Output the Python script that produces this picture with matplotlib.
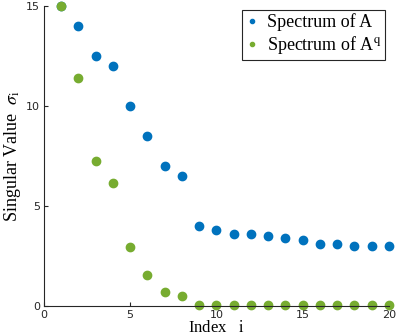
import matplotlib
matplotlib.use('Agg')
import matplotlib.pyplot as plt

plt.rcParams['mathtext.fontset'] = 'stix'

# singular value index
index = list(range(1, 21))
# spectrum of A
spec_a = [15.0, 14.0, 12.5, 12.0, 10.0, 8.5, 7.0, 6.5, 4.0, 3.8,
          3.6, 3.6, 3.5, 3.4, 3.3, 3.1, 3.1, 3.0, 3.0, 3.0]
# spectrum of A^q
spec_aq = [15.0, 11.4, 7.25, 6.15, 2.97, 1.55, 0.7, 0.52, 0.06, 0.05,
           0.05, 0.05, 0.05, 0.05, 0.05, 0.05, 0.05, 0.05, 0.05, 0.05]

x_ticks = [0, 5, 10, 15, 20]
y_ticks = [0, 5, 10, 15]

fig = plt.figure(figsize=(3.96, 3.36), dpi=100)
ax = fig.add_axes([0.111, 0.089, 0.871, 0.893])

ax.plot(index, spec_a, 'o', color='#0072BD', markersize=6, label='Spectrum of A', clip_on=False)
ax.plot(index, spec_aq, 'o', color='#77AC30', markersize=6, label='Spectrum of A$^{\\mathrm{q}}$', clip_on=False)

ax.set_xlim(0, 20)
ax.set_ylim(0, 15)
ax.set_xticks(x_ticks)
ax.set_yticks(y_ticks)
ax.tick_params(direction='in', length=3, labelsize=8, colors='#262626', pad=3)
for s in ['top', 'right']:
    ax.spines[s].set_visible(False)
for s in ['left', 'bottom']:
    ax.spines[s].set_color('#262626')
    ax.spines[s].set_linewidth(0.8)

serif = 'Liberation Serif'
ax.set_xlabel('Index   $\\mathrm{i}$', family=serif, fontsize=12, labelpad=0)
ax.set_ylabel('Singular Value  $\\sigma_{\\mathrm{i}}$', family=serif, fontsize=13, labelpad=2)

leg = ax.legend(loc='upper right', prop={'family': serif, 'size': 13}, markerscale=0.5,
                handlelength=0.7, handletextpad=0.5, borderpad=0.2, labelspacing=0.15,
                borderaxespad=0, fancybox=False, framealpha=1, edgecolor='#262626',
                bbox_to_anchor=(0.99, 0.987))
leg.get_frame().set_linewidth(0.8)

fig.savefig('out.png', dpi=100)
